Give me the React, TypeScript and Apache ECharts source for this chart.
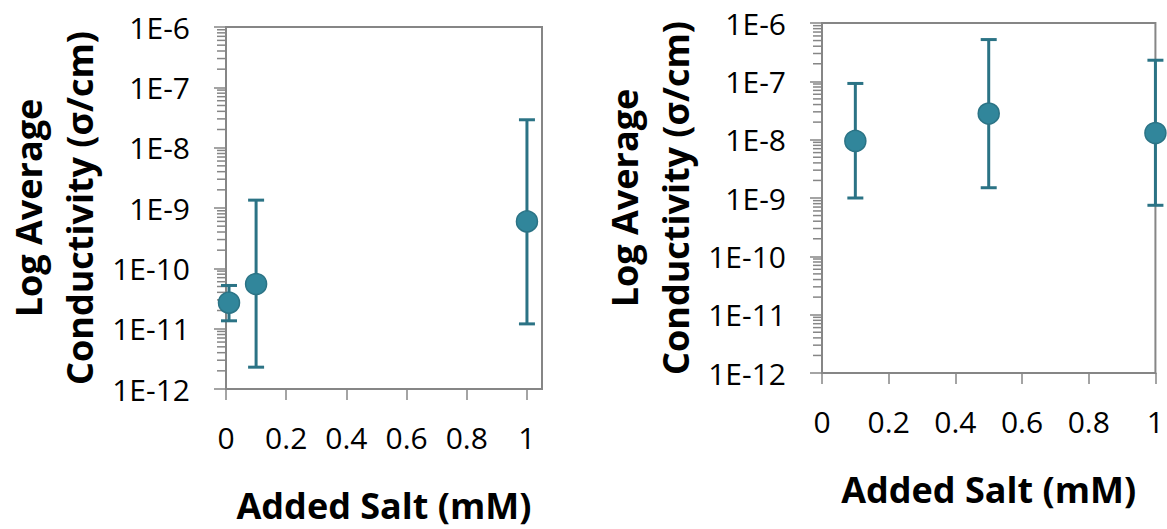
import React, { useEffect, useRef } from "react";
import * as echarts from "echarts";

// ---- data ----
const xTicks = [0, 0.2, 0.4, 0.6, 0.8, 1];
const yTicks = [1e-12, 1e-11, 1e-10, 1e-9, 1e-8, 1e-7, 1e-6];

const leftX = [0.01, 0.1, 1];
const leftY = [2.7e-11, 5.5e-11, 6.0e-10];
const leftLow = [1.35e-11, 2.3e-12, 1.2e-11];
const leftHigh = [5.2e-11, 1.35e-9, 2.9e-8];

const rightX = [0.1, 0.5, 1];
const rightY = [9.5e-9, 2.8e-8, 1.3e-8];
const rightLow = [1.0e-9, 1.5e-9, 7.5e-10];
const rightHigh = [9.2e-8, 5.2e-7, 2.3e-7];

const yTitle = "Log Average\nConductivity (σ/cm)";
const xTitle = "Added Salt (mM)";

const FONT = "'Open Sans', 'Noto Sans', sans-serif";
const AXIS = "#868686";
const BAR = "#2B7385";
const MARK = "#31869B";

const minorTicks: number[] = [];
for (let i = 0; i < yTicks.length - 1; i++) {
  for (let k = 2; k <= 9; k++) minorTicks.push(k * yTicks[i]);
}

function fmtY(v: number) {
  const e = Math.round(Math.log10(v));
  return "1E" + e;
}

function makeAxes(idx: number, xMax: number) {
  const x = {
    type: "value",
    gridIndex: idx,
    min: 0,
    max: xMax,
    axisLine: { show: true, lineStyle: { color: AXIS, width: 2 } },
    axisTick: {
      show: true,
      inside: false,
      length: 11,
      customValues: xTicks,
      lineStyle: { color: AXIS, width: 1.5 },
    },
    axisLabel: {
      customValues: xTicks,
      margin: 33,
      fontSize: 30,
      fontFamily: FONT,
      color: "#000",
    },
    splitLine: { show: false },
    name: xTitle,
    nameLocation: "middle",
    nameGap: 98,
    nameTextStyle: {
      fontSize: 36,
      fontWeight: "bold",
      fontFamily: FONT,
      color: "#000",
    },
  };
  const y = {
    type: "log",
    logBase: 10,
    gridIndex: idx,
    min: 1e-12,
    max: 1e-6,
    axisLine: { show: true, lineStyle: { color: AXIS, width: 2 } },
    axisTick: {
      show: true,
      inside: false,
      length: 12,
      customValues: yTicks,
      lineStyle: { color: AXIS, width: 1.5 },
    },
    axisLabel: {
      customValues: yTicks,
      margin: 36,
      fontSize: 30,
      fontFamily: FONT,
      color: "#000",
      formatter: (v: number) => fmtY(v),
    },
    minorTick: { show: false },
    splitLine: { show: false },
    name: yTitle,
    nameLocation: "middle",
    nameRotate: 90,
    nameGap: 121,
    nameTextStyle: {
      fontSize: 36,
      lineHeight: 51,
      fontWeight: "bold",
      fontFamily: FONT,
      color: "#000",
      align: "center",
    },
  };
  return { x, y };
}

function minorSeries(idx: number) {
  return {
    type: "custom",
    xAxisIndex: idx,
    yAxisIndex: idx,
    clip: false,
    silent: true,
    z: 1,
    data: minorTicks.map((v) => [0, v]),
    renderItem: (params: any, api: any) => {
      const p = api.coord([api.value(0), api.value(1)]);
      return {
        type: "line",
        shape: { x1: p[0] - 9, y1: p[1], x2: p[0], y2: p[1] },
        style: { stroke: AXIS, lineWidth: 1.5 },
      };
    },
  };
}

function errorSeries(idx: number, xs: number[], lo: number[], hi: number[]) {
  return {
    type: "custom",
    xAxisIndex: idx,
    yAxisIndex: idx,
    clip: false,
    z: 2,
    data: xs.map((x, i) => [x, lo[i], hi[i]]),
    renderItem: (params: any, api: any) => {
      const a = api.coord([api.value(0), api.value(1)]);
      const b = api.coord([api.value(0), api.value(2)]);
      const w = 8;
      const st = { stroke: BAR, lineWidth: 3 };
      return {
        type: "group",
        children: [
          { type: "line", shape: { x1: a[0], y1: a[1], x2: b[0], y2: b[1] }, style: st },
          { type: "line", shape: { x1: a[0] - w, y1: a[1], x2: a[0] + w, y2: a[1] }, style: st },
          { type: "line", shape: { x1: b[0] - w, y1: b[1], x2: b[0] + w, y2: b[1] }, style: st },
        ],
      };
    },
  };
}

function pointSeries(idx: number, xs: number[], ys: number[]) {
  return {
    type: "scatter",
    xAxisIndex: idx,
    yAxisIndex: idx,
    clip: false,
    z: 3,
    symbol: "circle",
    symbolSize: 21,
    itemStyle: { color: MARK, borderColor: BAR, borderWidth: 1.5, opacity: 1 },
    data: xs.map((x, i) => [x, ys[i]]),
  };
}

export default function App() {
  const ref = useRef<HTMLDivElement>(null);
  useEffect(() => {
    document.body.style.margin = "0";
    if (!ref.current) return;
    const chart = echarts.init(ref.current, null, { renderer: "svg" });
    const L = makeAxes(0, 1.05);
    const R = makeAxes(1, 1);
    chart.setOption({
      animation: false,
      backgroundColor: "#fff",
      grid: [
        { left: 226, top: 27, width: 316, height: 362, show: true, borderColor: AXIS, borderWidth: 2, containLabel: false },
        { left: 822, top: 23, width: 336, height: 350, show: true, borderColor: AXIS, borderWidth: 2, containLabel: false },
      ],
      xAxis: [L.x, R.x],
      yAxis: [L.y, R.y],
      series: [
        minorSeries(0),
        minorSeries(1),
        errorSeries(0, leftX, leftLow, leftHigh),
        errorSeries(1, rightX, rightLow, rightHigh),
        pointSeries(0, leftX, leftY),
        pointSeries(1, rightX, rightY),
      ],
    });
    return () => chart.dispose();
  }, []);
  return <div ref={ref} style={{ width: 1167, height: 529 }} />;
}
